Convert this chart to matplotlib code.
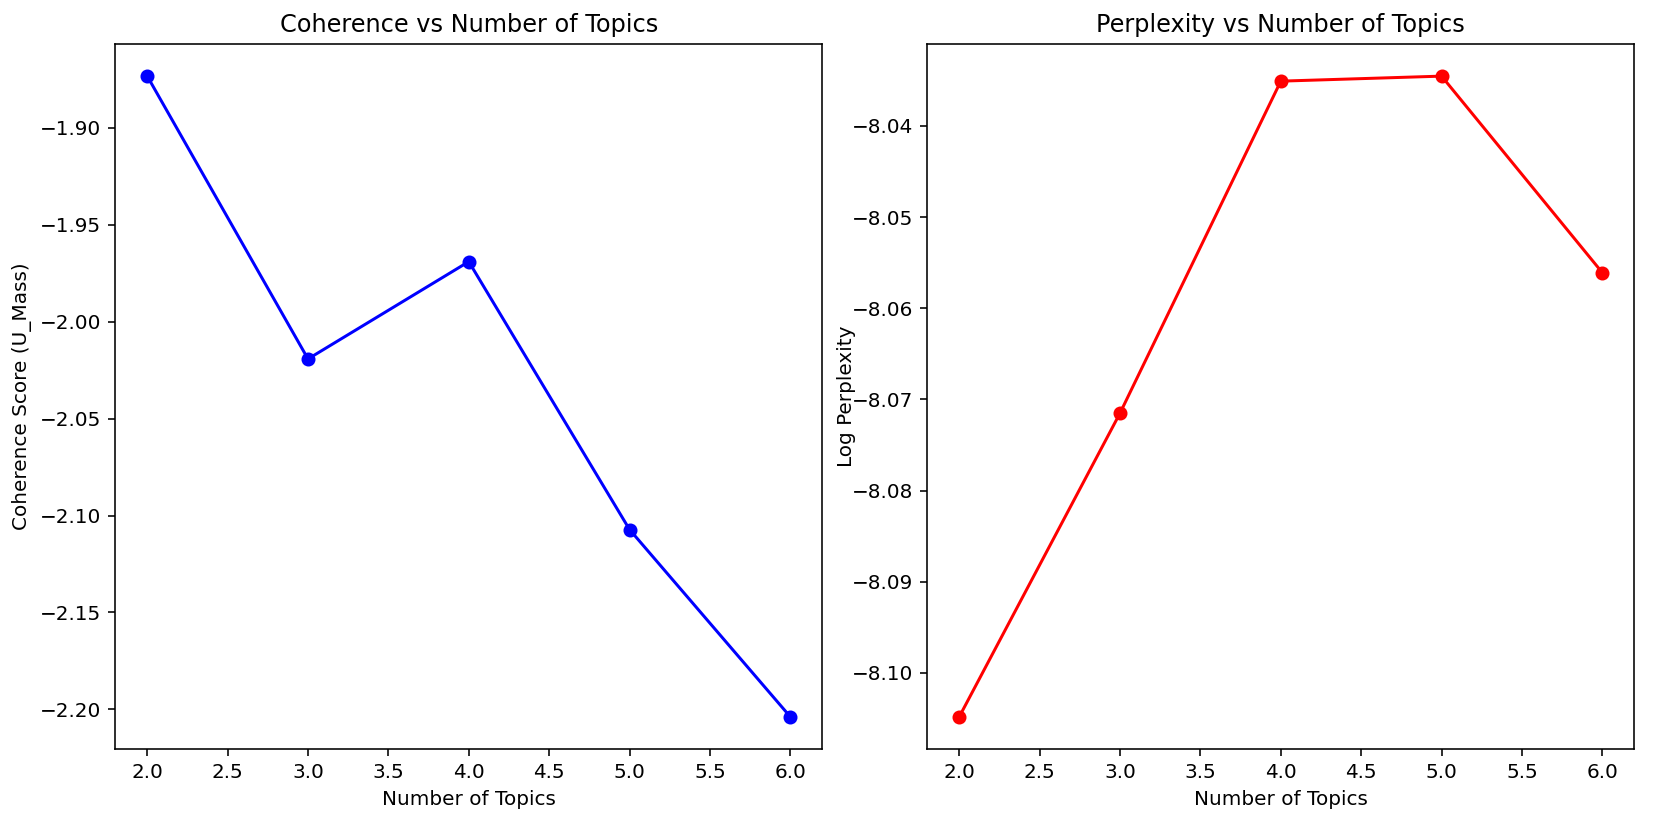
import matplotlib; matplotlib.use("Agg")
import matplotlib.pyplot as plt

# topic-model scan results
n_topics=[2,3,4,5,6]
coherence=[-1.8733,-2.0192,-1.9690,-2.1072,-2.2038]
log_perplexity=[-8.1048,-8.0715,-8.0351,-8.03455,-8.0561]

DPI=144
fig,(ax1,ax2)=plt.subplots(1,2,figsize=(1656/DPI,832/DPI),dpi=DPI)
fig.subplots_adjust(left=0.0695,right=0.987,bottom=0.100,top=0.947,wspace=0.148)

ax1.plot(n_topics,coherence,marker="o",color="blue")
ax1.set_title("Coherence vs Number of Topics")
ax1.set_xlabel("Number of Topics"); ax1.set_ylabel("Coherence Score (U_Mass)")

ax2.plot(n_topics,log_perplexity,marker="o",color="red")
ax2.set_title("Perplexity vs Number of Topics")
ax2.set_xlabel("Number of Topics"); ax2.set_ylabel("Log Perplexity",labelpad=-2)

fig.savefig("out.png",dpi=DPI)
